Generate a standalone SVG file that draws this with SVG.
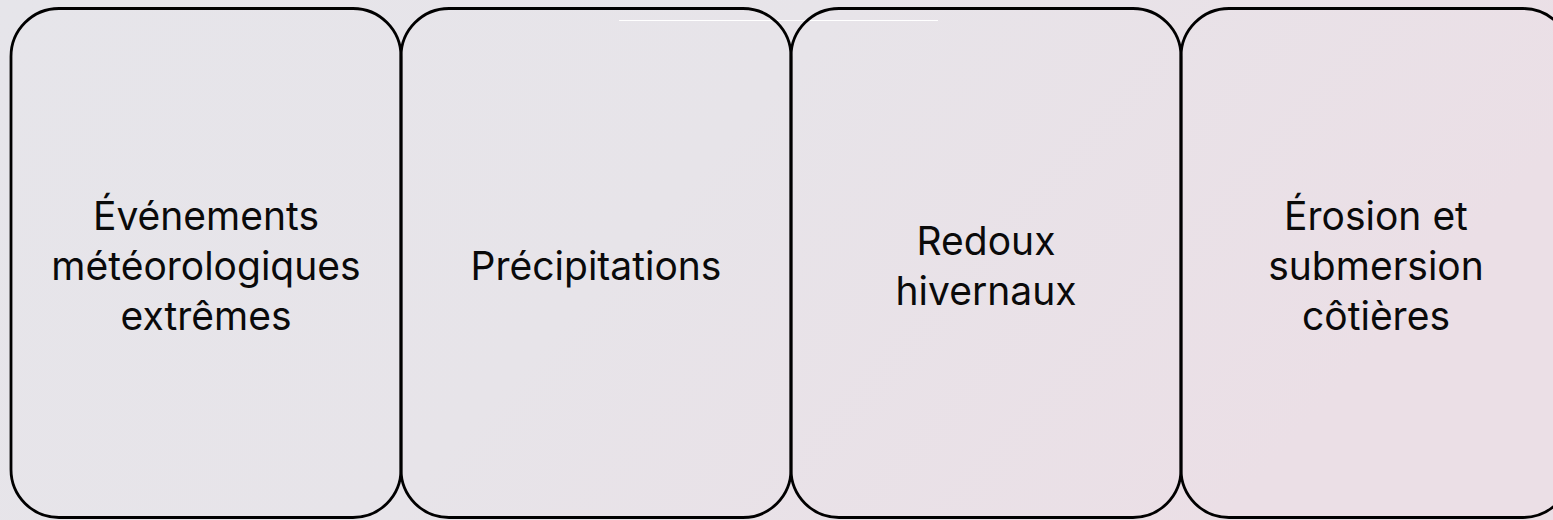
<svg xmlns="http://www.w3.org/2000/svg" width="1553" height="520" viewBox="0 0 1553 520">
  <defs>
    <linearGradient id="bg" x1="0" y1="0" x2="1" y2="0.3">
      <stop offset="0" stop-color="#e6e5ea"/>
      <stop offset="0.5" stop-color="#e7e4e9"/>
      <stop offset="1" stop-color="#ebdfe6"/>
    </linearGradient>
  </defs>
  <style>
    .box { fill: none; stroke: #000; stroke-width: 2.8; }
    .lbl { font-family: Inter, "Open Sans", "Liberation Sans", sans-serif; font-size: 39px; fill: #0a0a0a; text-anchor: middle; }
  </style>
  <rect x="0" y="0" width="1553" height="520" fill="url(#bg)"/>
  <line x1="619" y1="20.5" x2="938" y2="20.5" stroke="#ffffff" stroke-width="1"/>
  <g id="connectors"></g>
  <g id="node1">
    <rect class="box" x="11" y="8.5" width="390" height="509" rx="48" ry="48"/>
    <text class="lbl" x="206" y="230">Événements</text>
    <text class="lbl" x="206" y="280">météorologiques</text>
    <text class="lbl" x="206" y="330">extrêmes</text>
  </g>
  <g id="node2">
    <rect class="box" x="401" y="8.5" width="390" height="509" rx="48" ry="48"/>
    <text class="lbl" x="596" y="280">Précipitations</text>
  </g>
  <g id="node3">
    <rect class="box" x="791" y="8.5" width="390" height="509" rx="48" ry="48"/>
    <text class="lbl" x="986" y="255">Redoux</text>
    <text class="lbl" x="986" y="305">hivernaux</text>
  </g>
  <g id="node4">
    <rect class="box" x="1181" y="8.5" width="390" height="509" rx="48" ry="48"/>
    <text class="lbl" x="1376" y="230">Érosion et</text>
    <text class="lbl" x="1376" y="280">submersion</text>
    <text class="lbl" x="1376" y="330">côtières</text>
  </g>
</svg>
